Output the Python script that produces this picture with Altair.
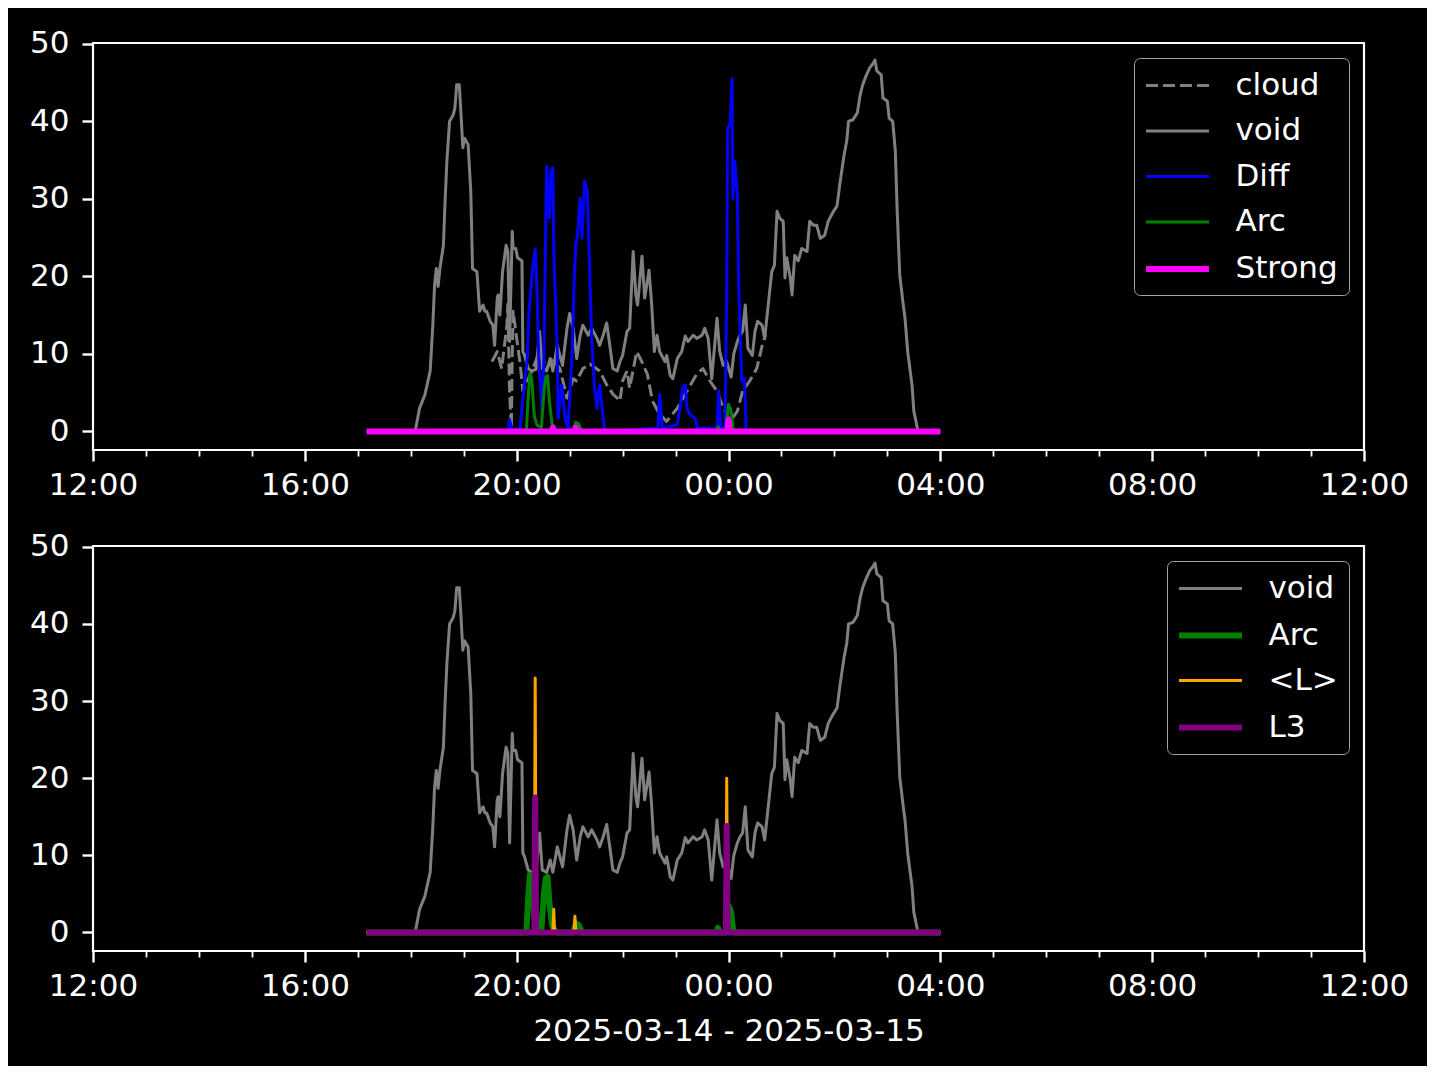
import altair as alt
import pandas as pd

FONT = "DejaVu Sans"
FS = 31

# ---------------- data ----------------
void_time = [
    "17:10", "18:05", "18:10", "18:16", "18:22", "18:25", "18:27", "18:29", "18:31", "18:33",
    "18:37", "18:39", "18:41", "18:44", "18:48", "18:50", "18:52", "18:55", "18:57", "18:59",
    "19:01", "19:05", "19:08", "19:10", "19:15", "19:18", "19:22", "19:24", "19:26", "19:30",
    "19:33", "19:35", "19:38", "19:39", "19:41", "19:44", "19:48", "19:50", "19:52", "19:55",
    "19:56", "19:59", "20:01", "20:06", "20:07", "20:09", "20:13", "20:17", "20:22", "20:26",
    "20:29", "20:34", "20:38", "20:41", "20:46", "20:49", "20:52", "20:57", "21:00", "21:04",
    "21:08", "21:12", "21:15", "21:21", "21:25", "21:31", "21:34", "21:38", "21:42", "21:46",
    "21:49", "21:54", "21:57", "22:00", "22:05", "22:08", "22:12", "22:15", "22:17", "22:22",
    "22:25", "22:30", "22:33", "22:36", "22:39", "22:42", "22:48", "22:50", "22:54", "22:57",
    "23:02", "23:07", "23:11", "23:14", "23:20", "23:24", "23:30", "23:33", "23:37", "23:41",
    "23:47", "23:50", "23:54", "23:58", "00:03", "00:06", "00:10", "00:13", "00:16", "00:19",
    "00:22", "00:27", "00:30", "00:33", "00:38", "00:41", "00:45", "00:49", "00:52", "00:55",
    "00:58", "01:02", "01:04", "01:06", "01:10", "01:12", "01:15", "01:19", "01:23", "01:29",
    "01:32", "01:36", "01:40", "01:44", "01:49", "01:53", "01:58", "02:03", "02:06", "02:11",
    "02:14", "02:16", "02:21", "02:26", "02:29", "02:32", "02:36", "02:40", "02:44", "02:46",
    "02:48", "02:53", "02:55", "03:00", "03:02", "03:06", "03:09", "03:11", "03:14", "03:18",
    "03:20", "03:23", "03:28", "03:30", "03:34", "03:35", "04:00",
]
void_value = [
    0, 0, 3, 4.7, 7.8, 13.7, 18.9, 21, 18.7, 21,
    24, 30, 35, 40, 40.8, 41.7, 44.7, 44.7, 40.8, 36.6,
    37.8, 37, 31, 21, 20.6, 15.5, 16.3, 15.5, 15.5, 14.2,
    13.7, 11.1, 17.2, 17.6, 15, 20.6, 24, 23.2, 11.6, 25.8,
    23.6, 23.6, 22.4, 22, 10.3, 9.8, 8.1, 7.8, 8, 12.9,
    8.1, 7.8, 9.4, 7.8, 11.1, 9.8, 8.5, 13.3, 15.2, 13.3,
    9.4, 12.4, 13.7, 12.4, 13.3, 12, 11.1, 12.4, 14, 10.7,
    8.1, 7.8, 9, 9.8, 12.9, 13.3, 23.2, 17.6, 16.3, 22.6,
    17.2, 20.8, 16.3, 10.3, 12.4, 10.3, 9, 9.8, 7.2, 6.8,
    9.4, 10.3, 12.3, 11.6, 12.4, 12, 12.4, 13.3, 12, 6.8,
    14.6, 10.3, 8.5, 9, 7, 10, 11.6, 12.4, 12.9, 16.3,
    10.7, 9.8, 12.9, 14.2, 13.7, 12, 16.3, 20.6, 21.4, 28.4,
    27.5, 27.1, 19.8, 22.4, 19.8, 17.6, 22.7, 22, 23.6, 23.2,
    27.1, 26.6, 26.6, 24.9, 25.3, 27.1, 28.2, 29.1, 31.8, 35.7,
    37.5, 40, 40.2, 41.1, 43.3, 44.7, 45.9, 46.9, 47.5, 47.9,
    46.5, 46, 43, 42.6, 40.4, 40, 36.2, 28.8, 20.2, 16.3,
    14.6, 10.3, 5.9, 2.6, 0.4, 0, 0,
]

cloud_time = [
    "19:32", "19:38", "19:43", "19:49", "19:50", "19:52", "19:54", "19:55", "19:56", "20:00",
    "20:04", "20:07", "20:12", "20:18", "20:26", "20:34", "20:41", "20:49", "20:57", "21:04",
    "21:08", "21:15", "21:23", "21:34", "21:42", "21:49", "21:54", "21:57", "22:00", "22:05",
    "22:08", "22:16", "22:23", "22:28", "22:31", "22:34", "22:42", "22:50", "23:02", "23:13",
    "23:24", "23:31", "23:39", "23:47", "23:54", "00:02", "00:10", "00:16", "00:24", "00:32",
    "00:38", "00:42",
]
cloud_value = [
    9, 10.3, 8.1, 13.8, 16.4, 5, 0.4, 10, 15.5, 12,
    8.7, 5.2, 6.5, 8, 10.3, 8.1, 9.4, 8.1, 4.3, 6.8,
    6.5, 8.1, 8.7, 7.8, 6, 4.8, 4.3, 3.9, 6.5, 7.8,
    5.6, 10.3, 8.7, 7.4, 5.6, 3.9, 2.2, 1.3, 3, 5.2,
    7.4, 8.1, 6.5, 5.2, 3, 1.3, 2.6, 5.2, 6.5, 8.1,
    11, 12.5,
]

diff_time = [
    "17:10", "19:50", "19:52", "19:55", "20:04", "20:07", "20:12", "20:14", "20:18", "20:21",
    "20:23", "20:25", "20:29", "20:31", "20:33", "20:34", "20:37", "20:39", "20:41", "20:42",
    "20:46", "20:47", "20:51", "20:55", "20:58", "21:03", "21:05", "21:07", "21:09", "21:12",
    "21:14", "21:17", "21:20", "21:22", "21:25", "21:28", "21:31", "21:34", "21:38", "21:40",
    "22:40", "22:42", "22:45", "23:02", "23:05", "23:08", "23:11", "23:13", "23:16", "23:22",
    "23:25", "23:47", "23:49", "23:51", "23:56", "23:58", "23:59", "00:02", "00:04", "00:05",
    "00:07", "00:10", "00:11", "00:13", "00:15", "00:18", "00:20", "00:22", "04:00",
]
diff_value = [
    0, 0, 1.5, 0, 0.4, 4.3, 9.4, 15.5, 21, 23.5,
    18, 9.4, 2.6, 10.3, 27.5, 34.2, 27.5, 33.6, 34, 23.3,
    10.3, 1.7, 6, 1.7, 0.4, 10.3, 19, 24.1, 25.4, 30.1,
    24.9, 32.3, 31, 23.3, 12, 6, 3, 6, 1.7, 0,
    0.4, 4.8, 0.4, 0.9, 3, 5.6, 6, 3, 2.2, 1.7,
    0.4, 0.4, 5.2, 0.4, 0.4, 17.7, 39.1, 39.7, 45.5, 30,
    34.9, 30.6, 22, 13.3, 6.5, 6.8, 0.4, 0, 0,
]

arc_time = [
    "17:10", "20:11", "20:13", "20:15", "20:17", "20:20", "20:23", "20:28", "20:31", "20:33",
    "20:35", "20:37", "20:40", "20:43", "20:46", "21:04", "21:07", "21:10", "21:14", "23:47",
    "23:48", "23:50", "23:57", "00:00", "00:03", "00:05", "00:07", "04:00",
]
arc_value = [
    0, 0, 4.3, 7.5, 6.8, 2, 0.8, 0.5, 5.2, 7,
    7.2, 4, 1, 0.3, 0, 0, 1.2, 1, 0, 0,
    0.6, 0, 0, 3.5, 2.6, 0.5, 0, 0,
]

strong_time = ["17:10", "20:40", "20:41", "20:42", "21:06", "21:07", "21:08", "23:59", "00:00", "00:01", "04:00"]
strong_value = [0, 0, 0.5, 0, 0, 0.5, 0, 0, 1.5, 0, 0]

lmean_time = ["17:10", "20:20", "20:21", "20:22", "20:41", "20:42", "20:43", "21:05", "21:06", "21:07",
              "23:57", "23:58", "23:59", "04:00"]
lmean_value = [0, 0, 33, 0, 0, 3, 0, 0, 2.1, 0, 0, 20, 0, 0]

l3_time = ["17:10", "20:20", "20:21", "20:22", "23:57", "23:58", "23:59", "04:00"]
l3_value = [0, 0, 17.5, 0, 0, 13.8, 0, 0]

top_names = ["cloud", "void", "Diff", "Arc", "Strong"]
top_colors = ["#808080", "#808080", "#0000ff", "#008000", "#ff00ff"]
top_dashes = [[12, 5], [1, 0], [1, 0], [1, 0], [1, 0]]
top_widths = [3, 3, 3, 3, 6]

bot_names = ["void", "Arc", "<L>", "L3"]
bot_colors = ["#808080", "#008000", "#ffa500", "#800080"]
bot_dashes = [[1, 0], [1, 0], [1, 0], [1, 0]]
bot_widths = [3, 6, 3, 6]

x_title = "2025-03-14 - 2025-03-15"


def stamp(hhmm):
    h, m = (int(p) for p in hhmm.split(":"))
    day = "2025-03-14" if h >= 12 else "2025-03-15"
    return f"{day}T{h:02d}:{m:02d}:00"


def frame(name, times, values):
    return pd.DataFrame({"time": [stamp(t) for t in times], "value": values, "series": name})


# ---------------- scales & axes ----------------
x_scale = alt.Scale(
    domain=[alt.DateTime(year=2025, month=3, date=14, hours=12),
            alt.DateTime(year=2025, month=3, date=15, hours=12)],
    nice=False,
)
y_scale = alt.Scale(domain=[-2.4, 50.1], nice=False, zero=False)

hour_ticks = [alt.DateTime(year=2025, month=3, date=14 if h < 24 else 15, hours=h % 24)
              for h in range(12, 37)]
MAJOR = "hours(datum.value) % 4 === 0"


def x_axis(title):
    kw = dict(
        values=hour_ticks,
        labelExpr=f"{MAJOR} ? timeFormat(datum.value, '%H:%M') : ''",
        tickSize={"condition": {"test": MAJOR, "value": 11}, "value": 6},
        tickWidth={"condition": {"test": MAJOR, "value": 2.4}, "value": 1.8},
        labelPadding=9,
        labelOverlap=False,
        labelFlush=False,
        labelBound=False,
        domain=False,
        grid=False,
        minExtent=52,
        maxExtent=52,
    )
    if title:
        return alt.Axis(title=title, titlePadding=13, **kw)
    return alt.Axis(title=None, **kw)


y_axis = alt.Axis(
    values=[0, 10, 20, 30, 40, 50],
    tickSize=11,
    tickWidth=2.4,
    labelPadding=13,
    domain=False,
    grid=False,
    labelFlush=False,
    title=None,
    minExtent=80,
    maxExtent=80,
)


def legend():
    return alt.Legend(
        title=None,
        orient="top-right",
        offset=15,
        fillColor="black",
        strokeColor="#a6a6a6",
        cornerRadius=6,
        padding=11,
        labelFontSize=FS,
        labelFont=FONT,
        labelColor="white",
        symbolType="M-2.1,0H2.1",
        symbolSize=900,
        symbolOffset=14.5,
        labelOffset=40,
        rowPadding=13.5,
    )


def panel(frames, names, colors, dashes, widths, height, title):
    cs = alt.Scale(domain=names, range=colors)
    ds = alt.Scale(domain=names, range=dashes)
    ws = alt.Scale(type="ordinal", domain=names, range=widths)
    lg = legend()
    layers = []
    for df in frames:
        layers.append(
            alt.Chart(df).mark_line(strokeJoin="round", strokeCap="butt").encode(
                x=alt.X("time:T", scale=x_scale, axis=x_axis(title)),
                y=alt.Y("value:Q", scale=y_scale, axis=y_axis),
                color=alt.Color("series:N", scale=cs, legend=lg),
                strokeDash=alt.StrokeDash("series:N", scale=ds, legend=lg),
                strokeWidth=alt.StrokeWidth("series:N", scale=ws, legend=lg),
            )
        )
    return alt.layer(*layers).properties(width=1271, height=height)


top = panel(
    [frame("cloud", cloud_time, cloud_value),
     frame("void", void_time, void_value),
     frame("Diff", diff_time, diff_value),
     frame("Arc", arc_time, arc_value),
     frame("Strong", strong_time, strong_value)],
    top_names, top_colors, top_dashes, top_widths, 407, None,
)

bottom = panel(
    [frame("void", void_time, void_value),
     frame("Arc", arc_time, arc_value),
     frame("<L>", lmean_time, lmean_value),
     frame("L3", l3_time, l3_value)],
    bot_names, bot_colors, bot_dashes, bot_widths, 405, x_title,
)

chart = (
    alt.vconcat(top, bottom, spacing=25)
    .resolve_scale(color="independent", strokeDash="independent", strokeWidth="independent")
    .resolve_legend(color="independent", strokeDash="independent", strokeWidth="independent")
    .properties(background="black", padding={"left": 3, "top": 18, "right": 17, "bottom": 18})
    .configure_view(stroke="white", strokeWidth=2.2)
    .configure_axis(
        labelColor="white",
        tickColor="white",
        labelFont=FONT,
        labelFontSize=FS,
        titleFont=FONT,
        titleFontSize=FS,
        titleFontWeight="normal",
        titleColor="white",
    )
)

chart.save("out.html", embed_options={"renderer": "svg", "actions": False})
